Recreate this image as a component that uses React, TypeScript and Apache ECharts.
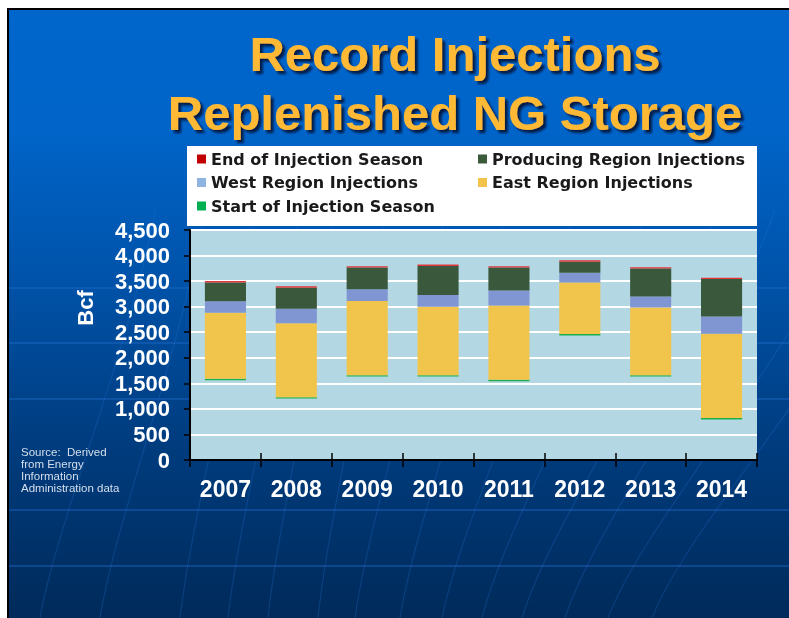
import React, { useEffect, useRef } from "react";
import * as echarts from "echarts";

const years = ["2007", "2008", "2009", "2010", "2011", "2012", "2013", "2014"];
// Storage level at the start of the injection season (Bcf)
const startLevel = [1590, 1230, 1660, 1660, 1570, 2465, 1660, 820];
const eastInj = [1290, 1445, 1450, 1340, 1455, 1010, 1325, 1650];
const westInj = [225, 285, 230, 230, 290, 190, 215, 340];
const producingInj = [370, 410, 425, 565, 450, 215, 545, 730];
const yMin = 0;
const yMax = 4500;
const yInterval = 500;

const titleLines = ["Record Injections", "Replenished NG Storage"];
const sourceLines = ["Source:  Derived", "from Energy", "Information", "Administration data"];

const MARK = 28; // visual thickness of the start/end season markers

const N_END = "End of Injection Season";
const N_PROD = "Producing Region Injections";
const N_WEST = "West Region Injections";
const N_EAST = "East Region Injections";
const N_START = "Start of Injection Season";

export default function App() {
  const ref = useRef<HTMLDivElement>(null);
  useEffect(() => {
    if (!ref.current) return;
    const chart = echarts.init(ref.current, undefined, { renderer: "svg" });
    const endLevel = startLevel.map((s, i) => s + eastInj[i] + westInj[i] + producingInj[i]);

    const meridians: any[] = [];
    const mPairs = [
      [95, 40], [150, 100], [215, 180], [262, 228], [300, 268], [350, 318],
      [398, 355], [450, 400], [505, 442], [560, 482], [615, 522], [665, 565],
      [725, 608], [775, 652],
    ];
    mPairs.forEach(([xt, xb]) => {
      const x0 = xt + (xt - xb) * 1.1;
      meridians.push({
        type: "bezierCurve",
        z: -5,
        silent: true,
        shape: {
          x1: x0, y1: 210,
          x2: xb, y2: 618,
          cpx1: x0 - (x0 - xb) * 0.25, cpy1: 360,
          cpx2: xb + (x0 - xb) * 0.15, cpy2: 520,
        },
        style: { stroke: "rgba(40,120,220,0.24)", lineWidth: 1.2, fill: null },
      });
    });
    const parallels = [288, 343, 399, 510, 566].map((y) => ({
      type: "line",
      z: -5,
      silent: true,
      shape: { x1: 9, y1: y, x2: 789, y2: y },
      style: { stroke: "rgba(30,105,200,0.42)", lineWidth: 2 },
    }));

    const legendText = {
      fontFamily: "DejaVu Sans",
      fontWeight: "bold",
      fontSize: 16,
      color: "#1a1a1a",
      lineHeight: 20,
    };

    const titleStyle = {
      fontFamily: "Liberation Sans, Arial",
      fontWeight: "bold",
      fontSize: 49,
      fill: "#FFB936",
      align: "center",
      verticalAlign: "middle",
      textShadowColor: "rgba(0,10,50,0.85)",
      textShadowOffsetX: 3,
      textShadowOffsetY: 3,
      textShadowBlur: 2,
    };

    chart.setOption({
      animation: false,
      graphic: [
        { type: "rect", z: -20, silent: true, shape: { x: 0, y: 0, width: 789, height: 618 }, style: { fill: "#ffffff" } },
        { type: "rect", z: -19, silent: true, shape: { x: 7, y: 8, width: 782, height: 610 }, style: { fill: "#000000" } },
        {
          type: "rect", z: -18, silent: true,
          shape: { x: 9, y: 10, width: 780, height: 608 },
          style: {
            fill: new echarts.graphic.LinearGradient(0, 0, 0, 1, [
              { offset: 0, color: "#0066CC" },
              { offset: 0.2, color: "#0064C8" },
              { offset: 0.45, color: "#0052A8" },
              { offset: 0.7, color: "#003D80" },
              { offset: 1, color: "#002A5A" },
            ]),
          },
        },
        ...parallels,
        ...meridians,
        {
          type: "text", z: 10, silent: true,
          x: 455, y: 54,
          style: { ...titleStyle, text: titleLines[0] },
        },
        {
          type: "text", z: 10, silent: true,
          x: 455, y: 113,
          style: { ...titleStyle, text: titleLines[1] },
        },
        { type: "rect", z: 1, silent: true, shape: { x: 187, y: 146, width: 570, height: 80 }, style: { fill: "#ffffff" } },
        {
          type: "text", z: 10, silent: true,
          x: 85, y: 308, rotation: Math.PI / 2,
          style: {
            text: "Bcf",
            fontFamily: "Liberation Sans, Arial",
            fontWeight: "bold",
            fontSize: 22,
            fill: "#ffffff",
            align: "center",
            verticalAlign: "middle",
          },
        },
        {
          type: "text", z: 10, silent: true,
          x: 21, y: 446,
          style: {
            text: sourceLines.join("\n"),
            fontFamily: "Liberation Sans, Arial",
            fontSize: 11.5,
            lineHeight: 12,
            fill: "#d5dfec",
            align: "left",
            verticalAlign: "top",
          },
        },
      ],
      legend: [
        {
          orient: "vertical",
          left: 197,
          top: 149,
          padding: 0,
          itemWidth: 9,
          itemHeight: 9,
          itemGap: 3.5,
          icon: "rect",
          selectedMode: false,
          textStyle: legendText,
          data: [
            { name: N_END, itemStyle: { color: "#C00000" } },
            { name: N_WEST, itemStyle: { color: "#8DB4E2" } },
            { name: N_START, itemStyle: { color: "#00B050" } },
          ],
        },
        {
          orient: "vertical",
          left: 478,
          top: 149,
          padding: 0,
          itemWidth: 9,
          itemHeight: 9,
          itemGap: 3.5,
          icon: "rect",
          selectedMode: false,
          textStyle: legendText,
          data: [
            { name: N_PROD, itemStyle: { color: "#3A5A3A" } },
            { name: N_EAST, itemStyle: { color: "#F2C44B" } },
          ],
        },
      ],
      grid: {
        left: 190,
        top: 230,
        width: 567,
        height: 230,
        show: true,
        backgroundColor: "#B3D8E4",
        borderWidth: 0,
      },
      xAxis: [
        {
          type: "category",
          data: years,
          position: "bottom",
          axisLine: { lineStyle: { color: "#000", width: 2 } },
          axisTick: { show: true, length: 7, lineStyle: { color: "#000", width: 1.5 } },
          axisLabel: {
            color: "#fff",
            fontFamily: "Liberation Sans, Arial",
            fontWeight: "bold",
            fontSize: 23,
            margin: 17,
          },
          splitLine: { show: false },
        },
        {
          type: "category",
          data: years,
          position: "bottom",
          axisLine: { show: false },
          axisTick: { show: true, inside: true, length: 7, lineStyle: { color: "#000", width: 1.5 } },
          axisLabel: { show: false },
          splitLine: { show: false },
        },
      ],
      yAxis: {
        type: "value",
        min: yMin,
        max: yMax,
        interval: yInterval,
        axisLine: { show: true, lineStyle: { color: "#000", width: 2 } },
        axisTick: { show: true, length: 6, lineStyle: { color: "#000", width: 1.5 } },
        axisLabel: {
          color: "#fff",
          fontFamily: "Liberation Sans, Arial",
          fontWeight: "bold",
          fontSize: 22,
          margin: 20,
          formatter: (v: number) => v.toLocaleString("en-US"),
        },
        splitLine: { show: true, lineStyle: { color: "#ffffff", width: 2 } },
      },
      series: [
        {
          name: "base",
          type: "bar",
          stack: "s",
          barWidth: "58%",
          silent: true,
          itemStyle: { color: "rgba(0,0,0,0)" },
          data: startLevel.map((v) => v - MARK),
        },
        {
          name: N_START,
          type: "bar",
          stack: "s",
          barWidth: "58%",
          itemStyle: { color: "#1DB04A" },
          data: startLevel.map(() => MARK),
        },
        {
          name: N_EAST,
          type: "bar",
          stack: "s",
          barWidth: "58%",
          itemStyle: { color: "#F1C54C" },
          data: eastInj,
        },
        {
          name: N_WEST,
          type: "bar",
          stack: "s",
          barWidth: "58%",
          itemStyle: { color: "#8096D2" },
          data: westInj,
        },
        {
          name: N_PROD,
          type: "bar",
          stack: "s",
          barWidth: "58%",
          itemStyle: { color: "#3A583B" },
          data: producingInj,
        },
        {
          name: N_END,
          type: "bar",
          stack: "s",
          barWidth: "58%",
          itemStyle: { color: "#E0363A" },
          data: endLevel.map(() => MARK),
        },
      ],
    });
    return () => chart.dispose();
  }, []);
  return (
    <div
      ref={ref}
      style={{ position: "fixed", left: 0, top: 0, width: 789, height: 618 }}
    />
  );
}
